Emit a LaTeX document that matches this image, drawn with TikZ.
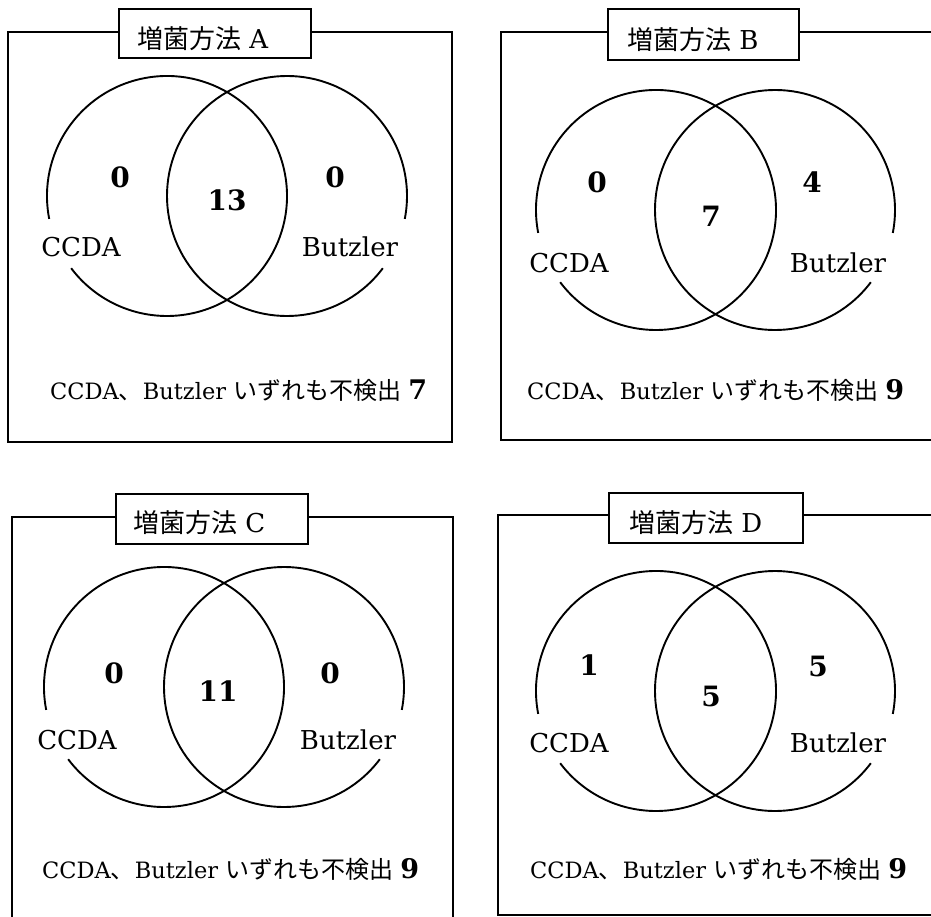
\documentclass[tikz,border=0pt]{standalone}
\usepackage{fontspec}
\setmainfont{DejaVu Serif}
\newfontfamily\cjk{Noto Sans CJK JP}
\begin{document}
\begin{tikzpicture}[x=1pt,y=-1pt,
  frame/.style={line width=1.9pt},
  vc/.style={line width=1.9pt},
  ttlbox/.style={draw, fill=white, line width=1.9pt, inner sep=0pt},
  ttl/.style={font=\fontsize{26}{26}\selectfont, inner sep=0pt, anchor=west},
  num/.style={font=\fontsize{28}{28}\selectfont\bfseries, inner sep=0pt},
  lbl/.style={font=\fontsize{26}{26}\selectfont, inner sep=0pt},
  foot/.style={font=\fontsize{22.5}{22.5}\selectfont, inner sep=0pt, anchor=base west}]
\useasboundingbox (0,0) rectangle (931,917);
\newcommand{\foottext}[1]{CCDA{\cjk\fontsize{24}{24}\selectfont 、}Butzler {\cjk\fontsize{24}{24}\selectfont いずれも不検出} {\fontsize{27}{27}\selectfont\bfseries #1}}

% ---------- Panel A ----------
\draw[frame] (8,32) rectangle (452,442);
\draw[vc] (167,196) ++(169:120) arc[start angle=169, end angle=503, radius=120];
\draw[vc] (287,196) ++(37:120) arc[start angle=37, end angle=371, radius=120];
\node[ttlbox, minimum width=192pt, minimum height=49pt] (boxA) at (215,33.5) {};
\node[ttl] (tA) at (137,39) {{\cjk 増菌方法} A};
\node[num] (aL) at (120,177) {0};
\node[num] (aM) at (227,200) {13};
\node[num] (aR) at (335,177) {0};
\node[lbl] (aC) at (81,247) {CCDA};
\node[lbl] (aB) at (350,247) {Butzler};
\node[foot] (aF) at (50,399) {\foottext{7}};

% ---------- Panel B ----------
\draw[frame] (934,32) -- (501,32) -- (501,440) -- (934,440);
\draw[vc] (656,210) ++(169:120) arc[start angle=169, end angle=503, radius=120];
\draw[vc] (775,210) ++(37:120) arc[start angle=37, end angle=371, radius=120];
\node[ttlbox, minimum width=191pt, minimum height=51pt] (boxB) at (703.5,34.5) {};
\node[ttl] (tB) at (627,40) {{\cjk 増菌方法} B};
\node[num] (bL) at (597,182) {0};
\node[num] (bM) at (711,216) {7};
\node[num] (bR) at (812,182) {4};
\node[lbl] (bC) at (569,263) {CCDA};
\node[lbl] (bB) at (838,263) {Butzler};
\node[foot] (bF) at (527,399) {\foottext{9}};

% ---------- Panel C ----------
\draw[frame] (12,920) -- (12,517) -- (453,517) -- (453,920);
\draw[vc] (164,687) ++(169:120) arc[start angle=169, end angle=503, radius=120];
\draw[vc] (284,687) ++(37:120) arc[start angle=37, end angle=371, radius=120];
\node[ttlbox, minimum width=192pt, minimum height=50pt] (boxC) at (212,519) {};
\node[ttl] (tC) at (133,523) {{\cjk 増菌方法} C};
\node[num] (cL) at (114,673) {0};
\node[num] (cM) at (218,691) {11};
\node[num] (cR) at (330,673) {0};
\node[lbl] (cC) at (77,740) {CCDA};
\node[lbl] (cB) at (348,740) {Butzler};
\node[foot] (cF) at (42,878) {\foottext{9}};

% ---------- Panel D ----------
\draw[frame] (934,515) -- (498,515) -- (498,915) -- (934,915);
\draw[vc] (656,691) ++(169:120) arc[start angle=169, end angle=503, radius=120];
\draw[vc] (775,691) ++(37:120) arc[start angle=37, end angle=371, radius=120];
\node[ttlbox, minimum width=194pt, minimum height=50pt] (boxD) at (706,518) {};
\node[ttl] (tD) at (629,523) {{\cjk 増菌方法} D};
\node[num] (dL) at (589,665) {1};
\node[num] (dM) at (711,696) {5};
\node[num] (dR) at (818,666) {5};
\node[lbl] (dC) at (569,743) {CCDA};
\node[lbl] (dB) at (838,743) {Butzler};
\node[foot] (dF) at (530,878) {\foottext{9}};
\end{tikzpicture}
\end{document}
